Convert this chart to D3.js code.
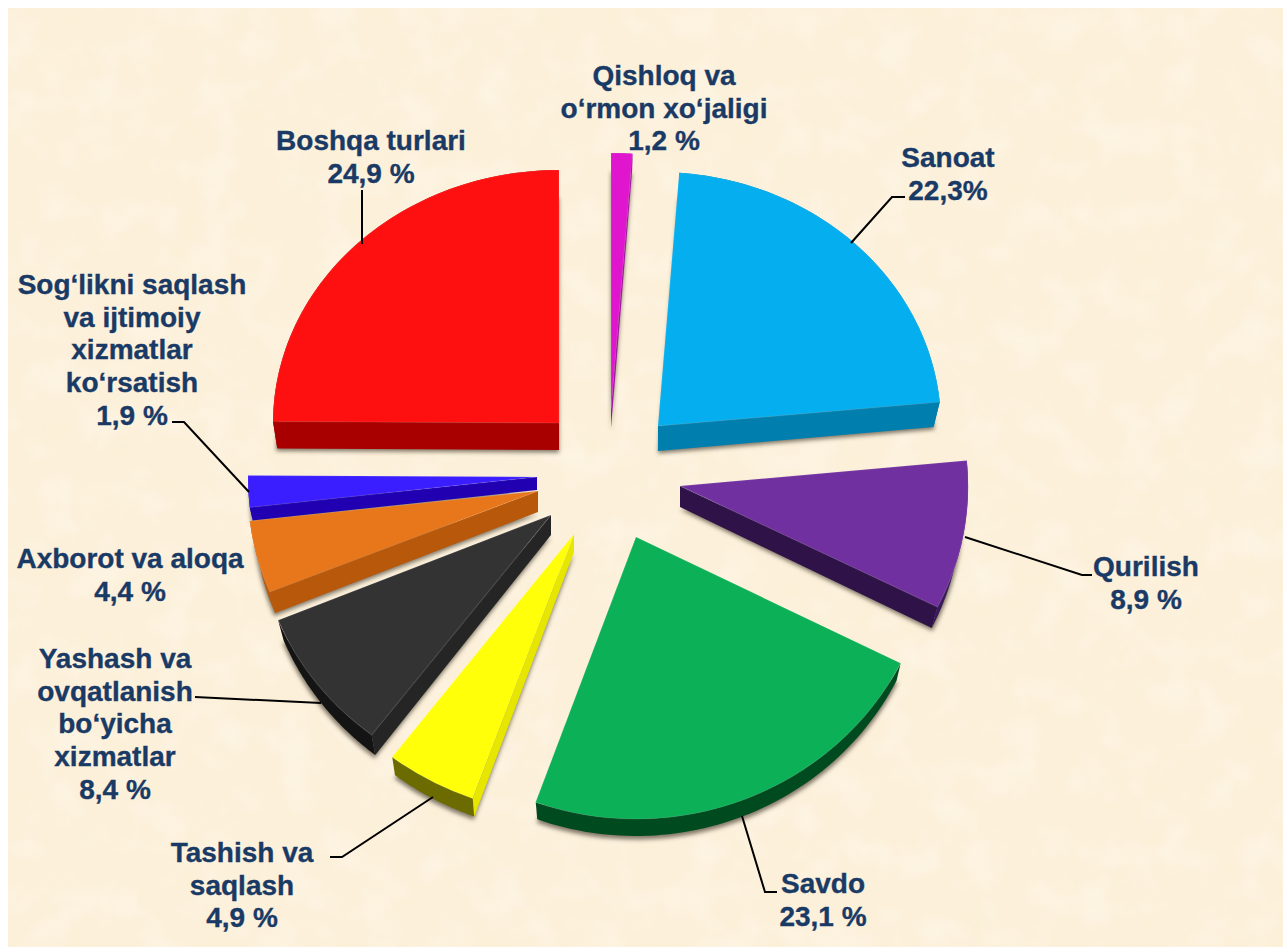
<!DOCTYPE html>
<html><head><meta charset="utf-8">
<script src="https://d3js.org/d3.v7.min.js"></script>
<style>html,body{margin:0;padding:0;background:#fff}svg{display:block}</style>
</head><body>
<svg id="c" width="1283" height="947"></svg>
<script>
// ---- data ----
const categories = ["Qishloq va o‘rmon xo‘jaligi","Sanoat","Qurilish","Savdo","Tashish va saqlash","Yashash va ovqatlanish bo‘yicha xizmatlar","Axborot va aloqa","Sog‘likni saqlash va ijtimoiy xizmatlar ko‘rsatish","Boshqa turlari"];
const values = [1.2,22.3,8.9,23.1,4.9,8.4,4.4,1.9,24.9];
const valueLabels = ["1,2 %","22,3%","8,9 %","23,1 %","4,9 %","8,4 %","4,4 %","1,9 %","24,9 %"];
const labelLines = [["Qishloq va","o‘rmon xo‘jaligi"],["Sanoat"],["Qurilish"],["Savdo"],["Tashish va","saqlash"],["Yashash va","ovqatlanish","bo‘yicha","xizmatlar"],["Axborot va aloqa"],["Sog‘likni saqlash","va ijtimoiy","xizmatlar","ko‘rsatish"],["Boshqa turlari"]];
// ---- styles ----
const topColors  = ["#E016CF","#05AEEE","#7030A0","#0BB057","#FFFF0A","#333333","#E8761A","#3A1EFF","#FF1010"];
const rimColors  = ["#A010A0","#0080B0","#3A1A5C","#004A20","#6B6B00","#141414","#B8580A","#2000B0","#A80000"];
const faceColors = ["#A010A0","#007FAF","#2E1248","#004A20","#E6E600","#252525","#B8580A","#2000B0","#A80000"];
// ---- layout: pie apex, radii, depth per exploded slice ----
const apexX = [611,658,680,636,574,551,538,537,559];
const apexY = [410,426,486,537,534,515,491,477,423];
const radX  = [285,283,288,296,299,295,290,289,286];
const radY  = [257,254,270,282,281,277,266,270,253];
const depth = [18,25,21,17,18,20,21,13,27];
const shrinkX = [0.98,0.978,0.978,0.985,0.985,0.98,0.98,0.99,0.985];
const drawOrder = [8,0,1,2,3,4,5,6,7];
const labelX = [664,948,1146,823,242,115,130,132,371];
const labelY = [85,167,576,893,862,668,568,294,150];
const lineGap = 32.7;
const leaders = [null,[[851,243],[892,197],[905,197]],[[965,537],[1082,575],[1092,575]],[[742,816],[765,892],[777,892]],[[433,797],[342,857],[330,857]],[[321,703],[195,697]],null,[[249,492],[184,422],[172,422]],[[362,244],[362,190]]];

const svg = d3.select("#c");
const defs = svg.append("defs");
defs.append("filter").attr("id","blur").attr("x","-15%").attr("y","-15%").attr("width","130%").attr("height","130%")
  .append("feGaussianBlur").attr("stdDeviation",2.2);
function parch(id,seed,r,g,b,freq){
  const f = defs.append("filter").attr("id",id).attr("x",0).attr("y",0).attr("width","100%").attr("height","100%");
  f.append("feTurbulence").attr("type","fractalNoise").attr("baseFrequency",freq).attr("numOctaves",3).attr("seed",seed).attr("result","n");
  f.append("feColorMatrix").attr("in","n").attr("type","matrix").attr("values",`0 0 0 0 ${r}  0 0 0 0 ${g}  0 0 0 0 ${b}  2.4 0 0 0 -1.05`);
}
parch("p1",7,0.93,0.86,0.62,0.03);
parch("p2",23,1,0.98,0.93,0.025);

const bg = {x:8,y:8,width:1275,height:939};
[["none","#FCF0DA",1],["url(#p1)","#000",0.22],["url(#p2)","#000",0.3]].forEach(([flt,col,op])=>{
  svg.append("rect").attr("x",bg.x).attr("y",bg.y).attr("width",bg.width).attr("height",bg.height)
    .attr("fill",col).attr("filter",flt==="none"?null:flt).attr("opacity",op);
});

const arcs = d3.pie().sort(null).value(d=>d).startAngle(0).endAngle(2*Math.PI)(values);
const arcGen = d3.arc().innerRadius(0).outerRadius(1);
const lineGen = d3.line();

// soft shadows go under every slice: the top face, dropped by the slice depth
drawOrder.forEach(i=>{
  svg.append("g").attr("filter","url(#blur)").append("path").attr("d",arcGen(arcs[i])).attr("fill","#5a5040").attr("fill-opacity",0.75)
    .attr("transform",`translate(${apexX[i]},${apexY[i]+depth[i]+2.5}) scale(${radX[i]*shrinkX[i]+1},${radY[i]+1})`);
});

drawOrder.forEach(i=>{
  const a = arcs[i], cx=apexX[i], cy=apexY[i], rx=radX[i], ry=radY[i], dp=depth[i], sk=shrinkX[i];
  const topPt = t=>[cx+rx*Math.sin(t), cy-ry*Math.cos(t)];
  const botPt = t=>[cx+rx*sk*Math.sin(t), cy+dp-ry*Math.cos(t)];
  const g = svg.append("g");
  const steps = d3.range(0,61).map(k=>a.startAngle+(a.endAngle-a.startAngle)*k/60);
  g.append("path").attr("fill",rimColors[i]).attr("d",lineGen(steps.map(topPt).concat(steps.slice().reverse().map(botPt)))+"Z");
  // a radial wall shows only when it faces the viewer
  if(Math.sin(a.startAngle)<-1e-6) g.append("path").attr("fill",faceColors[i]).attr("d",lineGen([[cx,cy],topPt(a.startAngle),botPt(a.startAngle),[cx,cy+dp]])+"Z");
  if(Math.sin(a.endAngle)>1e-6)   g.append("path").attr("fill",faceColors[i]).attr("d",lineGen([[cx,cy],topPt(a.endAngle),botPt(a.endAngle),[cx,cy+dp]])+"Z");
  g.append("path").attr("fill",topColors[i]).attr("d",arcGen(a))
    .attr("stroke","#fff").attr("stroke-opacity",0.07).attr("stroke-width",1.5).attr("vector-effect","non-scaling-stroke")
    .attr("transform",`translate(${cx},${cy}) scale(${rx},${ry})`);
});

leaders.forEach(p=>{ if(p) svg.append("path").attr("d",lineGen(p)).attr("fill","none").attr("stroke","#000").attr("stroke-width",2); });

categories.forEach((c,i)=>{
  const t = svg.append("text").attr("text-anchor","middle").attr("font-family","'Liberation Sans',Arial,sans-serif")
    .attr("font-weight","700").attr("font-size",28).attr("fill","#1A3A66").attr("stroke","#1A3A66").attr("stroke-width",0.35);
  labelLines[i].concat([valueLabels[i]]).forEach((s,k)=>{
    t.append("tspan").attr("x",labelX[i]).attr("y",labelY[i]+k*lineGap).text(s);
  });
});
</script>
</body></html>
